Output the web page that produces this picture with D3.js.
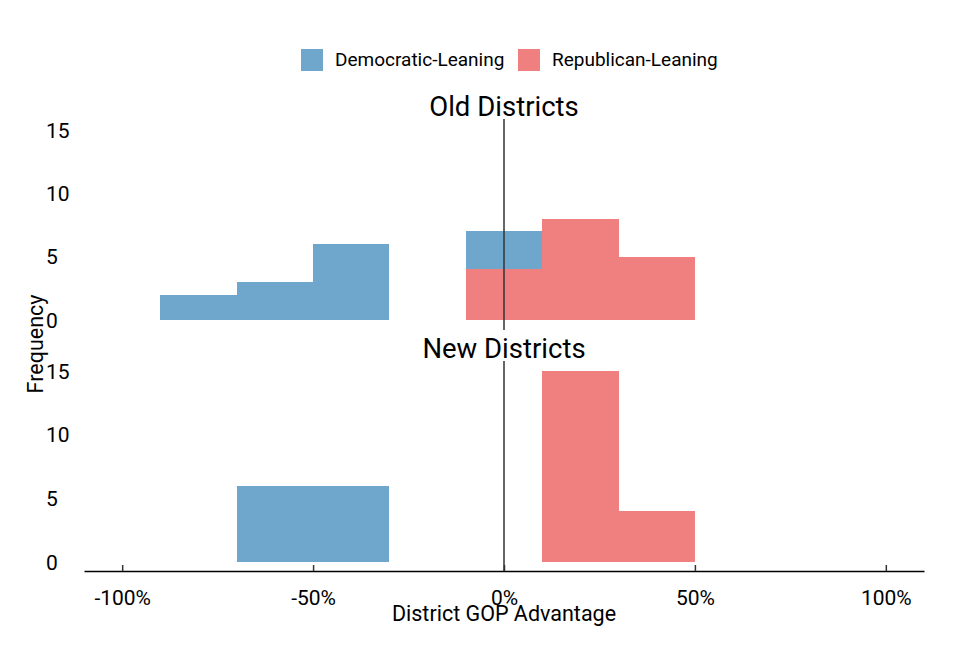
<!DOCTYPE html>
<html>
<head>
<meta charset="utf-8">
<script src="https://cdn.jsdelivr.net/npm/d3@7"></script>
<style>
    body { margin: 0; background: #fff; }
    text { font-family: Roboto, "Noto Sans", sans-serif; fill: #000; }
</style>
</head>
<body>
<div id="chart"></div>
<script>
// bin edges (in % GOP advantage) and counts per panel
const oldEdges = [-90, -70, -50, -30, -10, 10, 30, 50];
const oldRep = [0, 0, 0, 0, 4, 8, 5];
const oldDem = [2, 3, 6, 0, 3, 0, 0];

const newEdges = [-70, -30, 10, 30, 50];
const newRep = [0, 0, 15, 4];
const newDem = [6, 0, 0, 0];

const xTicks = [-100, -50, 0, 50, 100];
const yTicks = [0, 5, 10, 15];
const seriesNames = ["Democratic-Leaning", "Republican-Leaning"];

const width = 962, height = 668;
const demColor = "#6fa6cc";
const repColor = "#f08080";

const svg = d3.select("#chart").append("svg")
    .attr("width", width)
    .attr("height", height);

const x = d3.scaleLinear().domain([-110, 110]).range([84, 924]);

const panels = [
    { title: "Old Districts", edges: oldEdges, rep: oldRep, dem: oldDem, y: d3.scaleLinear().domain([0, 15]).range([320, 130]), top: 119, bottom: 330 },
    { title: "New Districts", edges: newEdges, rep: newRep, dem: newDem, y: d3.scaleLinear().domain([0, 15]).range([562, 371]), top: 361, bottom: 571 }
];

panels.forEach(p => {
    const g = svg.append("g");

    // build stacked bins: republican first, democratic on top
    const bins = [];
    p.rep.forEach((n, i) => {
        if (n > 0) bins.push({ x0: p.edges[i], x1: p.edges[i + 1], y0: 0, y1: n, color: repColor });
    });
    p.dem.forEach((n, i) => {
        if (n > 0) bins.push({ x0: p.edges[i], x1: p.edges[i + 1], y0: p.rep[i], y1: p.rep[i] + n, color: demColor });
    });

    g.selectAll("rect")
        .data(bins)
        .join("rect")
        .attr("x", d => x(d.x0))
        .attr("width", d => x(d.x1) - x(d.x0))
        .attr("y", d => p.y(d.y1))
        .attr("height", d => p.y(d.y0) - p.y(d.y1))
        .attr("fill", d => d.color)
        .attr("shape-rendering", "crispEdges");

    // zero line
    g.append("line")
        .attr("x1", x(0)).attr("x2", x(0))
        .attr("y1", p.top).attr("y2", p.bottom)
        .attr("stroke", "#333")
        .attr("stroke-width", 1.5);

    // y tick labels (left aligned)
    g.selectAll(".ytick")
        .data(yTicks)
        .join("text")
        .attr("class", "ytick")
        .attr("x", 46)
        .attr("y", d => p.y(d))
        .attr("dy", "0.36em")
        .style("font-size", "21px")
        .text(d => d);

    g.append("text")
        .attr("x", x(0))
        .attr("y", p.top - 3)
        .attr("text-anchor", "middle")
        .style("font-size", "27.5px")
        .text(p.title);
});

// x axis at bottom
const xAxis = svg.append("g")
    .attr("transform", "translate(0,571)")
    .call(d3.axisBottom(x).tickValues(xTicks).tickSizeInner(-6).tickSizeOuter(0).tickFormat(d => d + "%"));
xAxis.select(".domain").attr("stroke", "#000").attr("stroke-width", 1.5);
xAxis.selectAll(".tick line").attr("stroke", "#333").attr("stroke-width", 1.5);
xAxis.selectAll(".tick text")
    .attr("y", 34)
    .attr("dy", 0)
    .style("font-size", "21px")
    .style("font-family", "Roboto, sans-serif")
    .attr("fill", "#000");

svg.append("text")
    .attr("x", x(0))
    .attr("y", 621)
    .attr("text-anchor", "middle")
    .style("font-size", "21.5px")
    .text("District GOP Advantage");

svg.append("text")
    .attr("transform", "translate(43,344) rotate(-90)")
    .attr("text-anchor", "middle")
    .style("font-size", "21.5px")
    .text("Frequency");

// legend
const legend = svg.append("g");
const legendX = [301, 518];
const legendColor = [demColor, repColor];
seriesNames.forEach((name, i) => {
    legend.append("rect")
        .attr("x", legendX[i]).attr("y", 49)
        .attr("width", 22).attr("height", 22)
        .attr("fill", legendColor[i]);
    legend.append("text")
        .attr("x", legendX[i] + 34)
        .attr("y", 66)
        .style("font-size", "19px")
        .text(name);
});
</script>
</body>
</html>
